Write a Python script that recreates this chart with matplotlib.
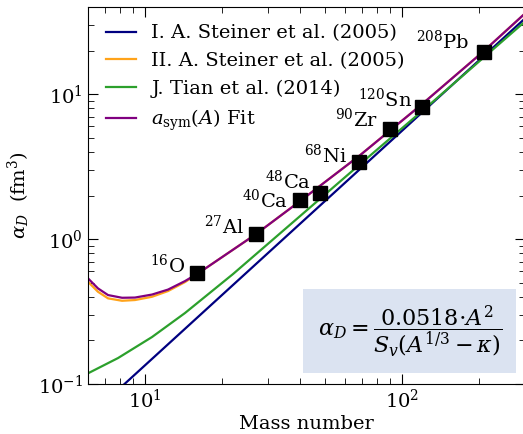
import matplotlib
matplotlib.use("Agg")
import matplotlib.pyplot as plt

plt.rcParams['font.family'] = ['DejaVu Serif']
plt.rcParams['mathtext.fontset'] = 'dejavuserif'

# measured nuclei
nuclei = ["$^{16}$O", "$^{27}$Al", "$^{40}$Ca", "$^{48}$Ca", "$^{68}$Ni", "$^{90}$Zr", "$^{120}$Sn", "$^{208}$Pb"]
mass = [16, 27, 40, 48, 68, 90, 120, 208]
alpha_d = [0.583, 1.08, 1.86, 2.07, 3.38, 5.71, 8.1, 19.6]

# curves
steiner1_A = [8.24, 16.37, 40.1, 98.2, 295.7]
steiner1_y = [0.0984, 0.299, 1.275, 5.43, 32.4]

steiner2_A = [6.00, 6.56, 7.18, 8.14, 9.14, 10.65, 12.29, 14.31, 16.37, 27.03, 40.1, 68.7, 119.6, 206.7, 295.7]
steiner2_y = [0.5077, 0.4331, 0.390, 0.3753, 0.3797, 0.400, 0.438, 0.505, 0.592, 1.083, 1.828, 3.796, 8.53, 19.64, 35.06]

tian_A = [6.00, 7.85, 10.65, 14.31, 22.0, 40.1, 68.7, 128.5, 295.7]
tian_y = [0.1185, 0.151, 0.211, 0.309, 0.574, 1.441, 3.29, 8.53, 30.88]

asym_A = [6.00, 6.56, 7.18, 8.14, 9.14, 10.65, 12.29, 14.31, 16.37, 27.03, 40.1, 68.7, 119.6, 206.7, 295.7]
asym_y = [0.536, 0.457, 0.411, 0.3937, 0.395, 0.4144, 0.4484, 0.5133, 0.592, 1.083, 1.828, 3.796, 8.53, 19.64, 35.06]

# label offsets in pixels (dx, dy)
label_off = [(-12, 0), (-12, 0), (-12, -8), (-9, 5), (-12, 0), (-12, 3), (-10, 1), (-14, 3)]

fig = plt.figure(figsize=(5.23, 4.34), dpi=100)
ax = fig.add_axes([88/523, 50/434, 436.6/523, 377/434])

ax.plot(steiner1_A, steiner1_y, color="navy", lw=1.6, label="I. A. Steiner et al. (2005)")
ax.plot(steiner2_A, steiner2_y, color="#ffa31a", lw=1.6, label="II. A. Steiner et al. (2005)")
ax.plot(tian_A, tian_y, color="#2ca02c", lw=1.6, label="J. Tian et al. (2014)")
ax.plot(asym_A, asym_y, color="purple", lw=1.6, label=r"$a_{\rm sym}(A)$ Fit")
ax.plot(mass, alpha_d, "s", color="black", ms=10, zorder=5)

for name, a, y, off in zip(nuclei, mass, alpha_d, label_off):
    ax.annotate(name, (a, y), xytext=(off[0] / 1.389, off[1] / 1.389), textcoords="offset points",
                ha="right", va="baseline", fontsize=14)

ax.set_xscale("log")
ax.set_yscale("log")
ax.set_xlim(6, 300)
ax.set_ylim(0.1, 40)
ax.tick_params(which="both", direction="in", top=True, right=True, labelsize=14)
ax.tick_params(which="major", length=7)
ax.tick_params(which="minor", length=4)
ax.set_xlabel("Mass number", fontsize=14, labelpad=2)
ax.set_ylabel(r"$\alpha_D$  (fm$^3$)", fontsize=14)

ax.legend(loc="upper left", frameon=False, fontsize=14, handlelength=1.55)

ax.text(0.737, 0.1406, r"$\alpha_D = \dfrac{0.0518{\cdot}A^2}{S_v\left(A^{1/3}-\kappa\right)}$",
        transform=ax.transAxes, ha="center", va="center", fontsize=16,
        bbox=dict(boxstyle="square,pad=0.65", facecolor="#dbe3f1", edgecolor="none"))

plt.savefig("out.png", dpi=100)
